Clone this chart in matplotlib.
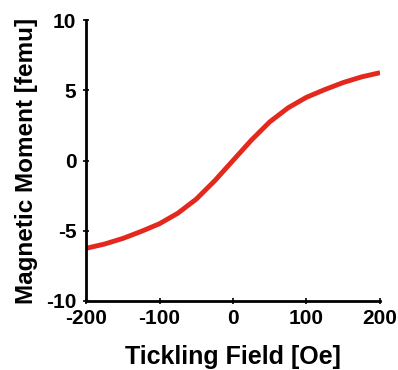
import matplotlib
matplotlib.use("Agg")
import matplotlib.pyplot as plt

field = [-200, -175, -150, -125, -100, -75, -50, -25, 0, 25, 50, 75, 100, 125, 150, 175, 200]
moment = [-6.25, -5.95, -5.55, -5.05, -4.5, -3.75, -2.75, -1.45, 0.0,
          1.45, 2.75, 3.75, 4.5, 5.05, 5.55, 5.95, 6.25]

xticks = [-200, -100, 0, 100, 200]
yticks = [-10, -5, 0, 5, 10]

plt.rcParams['font.family'] = ['Liberation Sans', 'DejaVu Sans']
plt.rcParams['font.weight'] = 'bold'

fig = plt.figure(figsize=(3.98, 3.70), dpi=100)
ax = fig.add_axes([86/398, 1 - 301/370, 294/398, 281/370])

ax.plot(field, moment, color="#e3281e", lw=3.5, solid_capstyle="butt",
        solid_joinstyle="round")

ax.set_xlim(-200, 200)
ax.set_ylim(-10, 10)
ax.set_xticks(xticks)
ax.set_yticks(yticks)
ax.set_xticklabels([str(t) for t in xticks], fontsize=15, fontweight="bold")
ax.set_yticklabels([str(t) for t in yticks], fontsize=15, fontweight="bold")
ax.tick_params(direction="inout", length=4, width=1.2)
ax.tick_params(axis="x", pad=4)
ax.tick_params(axis="y", pad=5)

for s in ["top", "right"]:
    ax.spines[s].set_visible(False)
for s in ["left", "bottom"]:
    ax.spines[s].set_linewidth(2)

ax.set_xlabel("Tickling Field [Oe]", fontsize=18, fontweight="bold", labelpad=12)
ax.set_ylabel("Magnetic Moment [femu]", fontsize=17.5, fontweight="bold", labelpad=6)

fig.savefig("out.png", dpi=100)
